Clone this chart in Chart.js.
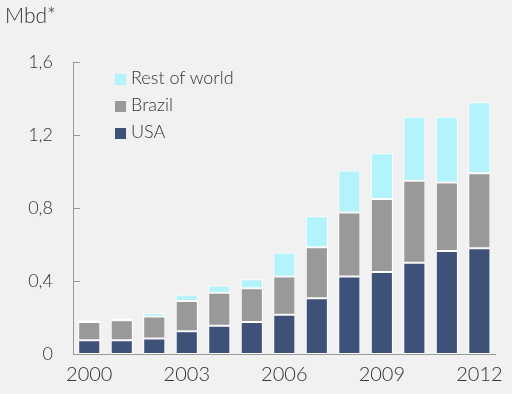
<!DOCTYPE html>
<html>
<head>
<meta charset="utf-8">
<script src="https://cdn.jsdelivr.net/npm/chart.js@4"></script>
<style>
  html, body { margin: 0; padding: 0; background: #f1f1f1; }
  #wrap { position: relative; width: 512px; height: 394px; }
  #unit { position: absolute; left: 5px; top: 2px; font: 300 21px Lato, sans-serif; color: #333; }
  #legend { position: absolute; left: 115px; top: 66px; font: 300 18px Lato, sans-serif; color: #333; }
  #legend div { height: 27px; line-height: 22px; }
  #legend span { display: inline-block; width: 11px; height: 11px; margin-right: 5px; vertical-align: -1px; }
</style>
</head>
<body>
<div id="wrap">
  <canvas id="grafico" width="512" height="394"></canvas>
  <div id="unit">Mbd*</div>
  <div id="legend"></div>
</div>
<script>
var anos = ['2000', '2001', '2002', '2003', '2004', '2005', '2006', '2007', '2008', '2009', '2010', '2011', '2012'];
var usa = [0.075, 0.075, 0.085, 0.125, 0.155, 0.175, 0.215, 0.305, 0.425, 0.45, 0.50, 0.565, 0.58];
var brasil = [0.10, 0.11, 0.12, 0.165, 0.18, 0.185, 0.21, 0.28, 0.35, 0.40, 0.45, 0.375, 0.41];
var resto = [0.01, 0.01, 0.02, 0.035, 0.04, 0.05, 0.13, 0.17, 0.23, 0.25, 0.35, 0.36, 0.39];
var yTicks = [0, 0.4, 0.8, 1.2, 1.6];

var series = [
    { label: 'USA', data: usa, cor: '#3e5179' },
    { label: 'Brazil', data: brasil, cor: '#999999' },
    { label: 'Rest of world', data: resto, cor: '#b3f3fc' }
];

// legenda em ordem inversa, como no original
var leg = document.getElementById('legend');
series.slice().reverse().forEach(function (s) {
    var d = document.createElement('div');
    d.innerHTML = '<span style="background:' + s.cor + '"></span>' + s.label;
    leg.appendChild(d);
});

// marcas do eixo y desenhadas para dentro
var ticksDentro = {
    id: 'ticksDentro',
    afterDraw: function (chart) {
        var ctx = chart.ctx, y = chart.scales.y, left = chart.chartArea.left;
        ctx.save();
        ctx.strokeStyle = '#999';
        ctx.lineWidth = 1;
        y.ticks.forEach(function (t) {
            var py = Math.round(y.getPixelForValue(t.value)) + 0.5;
            ctx.beginPath();
            ctx.moveTo(left, py);
            ctx.lineTo(left + 7, py);
            ctx.stroke();
        });
        ctx.restore();
    }
};

var ctx = document.getElementById('grafico').getContext('2d');
var chart = new Chart(ctx, {
    type: 'bar',
    data: {
        labels: anos,
        datasets: series.map(function (s) {
            return {
                label: s.label,
                data: s.data,
                backgroundColor: s.cor,
                borderColor: '#ffffff',
                borderWidth: 1,
                borderSkipped: false,
                categoryPercentage: 0.68,
                barPercentage: 1
            };
        })
    },
    options: {
        responsive: false,
        animation: false,
        layout: { padding: { top: 62, right: 11, left: 0, bottom: 0 } },
        plugins: { legend: { display: false }, tooltip: { enabled: false } },
        scales: {
            x: {
                stacked: true,
                grid: { display: false, drawTicks: false },
                border: { display: true, color: '#999', width: 1 },
                ticks: {
                    autoSkip: false,
                    maxRotation: 0,
                    padding: 9,
                    color: '#333',
                    font: { family: 'Lato', size: 20, weight: 300 },
                    callback: function (v, i) { return i % 3 === 0 ? anos[i] : ''; }
                },
                afterFit: function (s) { s.height = 40; }
            },
            y: {
                stacked: true,
                min: 0,
                max: 1.6,
                afterBuildTicks: function (s) {
                    s.ticks = yTicks.map(function (v) { return { value: v }; });
                },
                grid: { display: false, drawTicks: false },
                border: { display: true, color: '#999', width: 1 },
                ticks: {
                    padding: 20,
                    color: '#333',
                    font: { family: 'Lato', size: 18, weight: 300 },
                    callback: function (v) { return v === 0 ? '0' : v.toFixed(1).replace('.', ','); }
                },
                afterFit: function (s) { s.width = 73; }
            }
        }
    },
    plugins: [ticksDentro]
});
</script>
</body>
</html>
